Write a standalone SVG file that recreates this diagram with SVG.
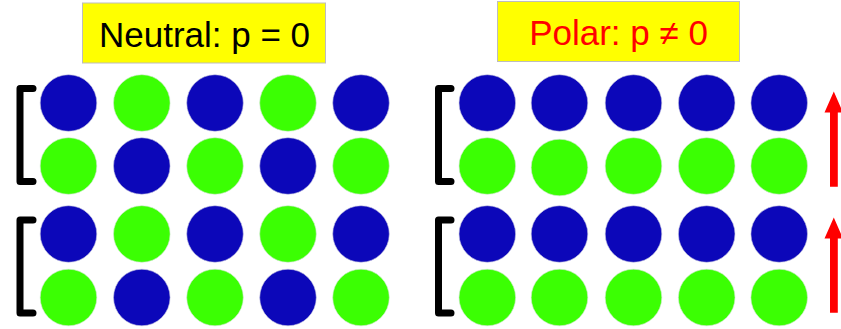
<svg xmlns="http://www.w3.org/2000/svg" width="841" height="329" viewBox="0 0 841 329">
<defs>
<style>
.b{fill:#0c07b9;stroke:#c8c8e0;stroke-width:0.6}
.g{fill:#3bff03;stroke:#d0e8d0;stroke-width:0.6}
.box{fill:#ffff00;stroke:#bdbdbd;stroke-width:1}
.t{font-family:"Liberation Sans",Arial,sans-serif;font-size:35px;text-anchor:middle}
.br{fill:none;stroke:#000;stroke-width:7;stroke-linejoin:round;stroke-linecap:round}
.ar{fill:#ff0000}
</style>
</defs>
<g id="title-neutral">
<rect class="box" x="82.5" y="3" width="243" height="60"/>
<text class="t" x="204.5" y="46.5" fill="#000">Neutral: p = 0</text>
</g>
<g id="title-polar">
<rect class="box" x="497.5" y="1.5" width="242" height="60"/>
<text class="t" x="618.5" y="44.5" fill="#ff0000">Polar: p ≠ 0</text>
</g>
<g id="neutral-lattice">
<circle class="b" cx="68.5" cy="103" r="28.3"/>
<circle class="g" cx="141.8" cy="103" r="28.3"/>
<circle class="b" cx="215" cy="103" r="28.3"/>
<circle class="g" cx="288" cy="103" r="28.3"/>
<circle class="b" cx="361" cy="103" r="28.3"/>
<circle class="g" cx="68.5" cy="166" r="28.3"/>
<circle class="b" cx="141.8" cy="166" r="28.3"/>
<circle class="g" cx="215" cy="166" r="28.3"/>
<circle class="b" cx="288" cy="166" r="28.3"/>
<circle class="g" cx="361" cy="166" r="28.3"/>
<circle class="b" cx="68.5" cy="234" r="28.3"/>
<circle class="g" cx="141.8" cy="234" r="28.3"/>
<circle class="b" cx="215" cy="234" r="28.3"/>
<circle class="g" cx="288" cy="234" r="28.3"/>
<circle class="b" cx="361" cy="234" r="28.3"/>
<circle class="g" cx="68.5" cy="297.5" r="28.3"/>
<circle class="b" cx="141.8" cy="297.5" r="28.3"/>
<circle class="g" cx="215" cy="297.5" r="28.3"/>
<circle class="b" cx="288" cy="297.5" r="28.3"/>
<circle class="g" cx="361" cy="297.5" r="28.3"/>
</g>
<g id="neutral-brackets">
<path class="br" d="M33 88.5 H20 V181.5 H33"/>
<path class="br" d="M33 220 H20 V313 H33"/>
</g>
<g id="polar-lattice">
<circle class="b" cx="487.3" cy="103" r="28.3"/>
<circle class="b" cx="559.5" cy="103" r="28.3"/>
<circle class="b" cx="633.5" cy="103" r="28.3"/>
<circle class="b" cx="706.7" cy="103" r="28.3"/>
<circle class="b" cx="779.2" cy="103" r="28.3"/>
<circle class="g" cx="487.3" cy="166" r="28.3"/>
<circle class="g" cx="559.5" cy="167.5" r="28.3"/>
<circle class="g" cx="633.5" cy="166" r="28.3"/>
<circle class="g" cx="706.7" cy="166" r="28.3"/>
<circle class="g" cx="779.2" cy="166" r="28.3"/>
<circle class="b" cx="487.3" cy="234" r="28.3"/>
<circle class="b" cx="559.5" cy="234" r="28.3"/>
<circle class="b" cx="633.5" cy="234" r="28.3"/>
<circle class="b" cx="706.7" cy="234" r="28.3"/>
<circle class="b" cx="779.2" cy="234" r="28.3"/>
<circle class="g" cx="487.3" cy="297.5" r="28.3"/>
<circle class="g" cx="559.5" cy="297.5" r="28.3"/>
<circle class="g" cx="633.5" cy="297.5" r="28.3"/>
<circle class="g" cx="706.7" cy="297.5" r="28.3"/>
<circle class="g" cx="779.2" cy="297.5" r="28.3"/>
</g>
<g id="polar-brackets">
<path class="br" d="M451 88.5 H438.5 V181.5 H451"/>
<path class="br" d="M451 220 H438.5 V313 H451"/>
</g>
<g id="connectors">
<polygon class="ar" points="833.8,91.5 843,112.5 837.8,112.5 837.8,186.7 830,186.7 830,112.5 824.5,112.5"/>
<polygon class="ar" points="833.8,217.5 843,238.5 837.8,238.5 837.8,312.7 830,312.7 830,238.5 824.5,238.5"/>
</g>
</svg>
